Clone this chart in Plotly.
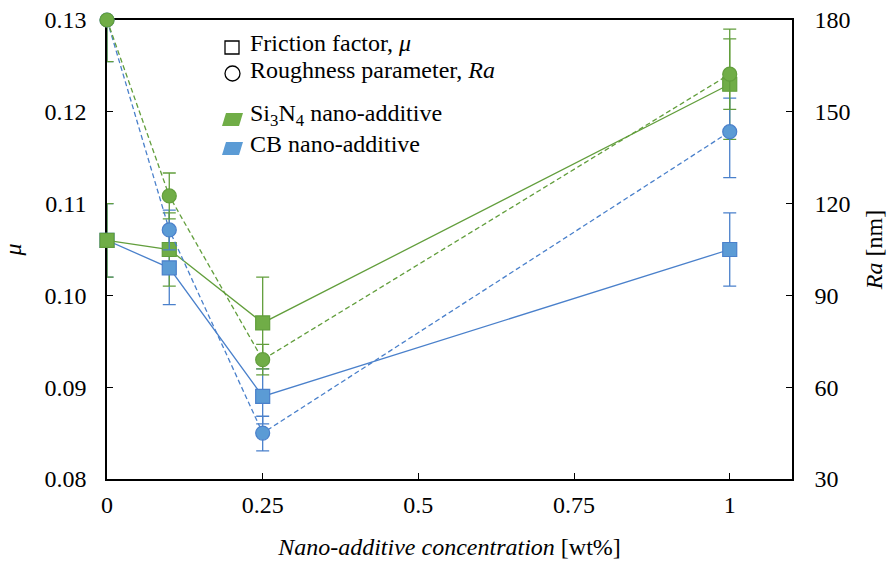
import plotly.graph_objects as go

# Nano-additive concentration [wt%]
conc = [0, 0.1, 0.25, 1]

# Friction factor (left axis)
mu_si3n4 = [0.106, 0.105, 0.097, 0.123]
mu_si3n4_err = [0.004, 0.004, 0.005, 0.006]
mu_cb = [0.106, 0.103, 0.089, 0.105]
mu_cb_err = [0.004, 0.004, 0.003, 0.004]

# Roughness parameter Ra [nm] (right axis)
ra_si3n4 = [180, 122.5, 69, 162.3]
ra_si3n4_err = [13.6, 7.5, 5, 11.5]
ra_cb = [180, 111.4, 45, 143.5]
ra_cb_err_plus = [13.6, 6.5, 5.5, 11]
ra_cb_err_minus = [13.6, 6.5, 5.8, 15]

x_ticks = [0, 0.25, 0.5, 0.75, 1]
x_ticklabels = ["0", "0.25", "0.5", "0.75", "1"]

GREEN_FILL, GREEN_LINE = "#70AD47", "#629E3C"
BLUE_FILL, BLUE_LINE = "#5B9BD5", "#4A80CB"

W, H = 896, 568
L, R, T, B = 107, 104, 20, 89
PW, PH = W - L - R, H - T - B
FONT = "Times New Roman, Liberation Serif, DejaVu Serif, serif"
FS = 24


def px(xp):
    return (xp - L) / PW


def py(yp):
    return (H - B - yp) / PH


fig = go.Figure()


def err_trace(y, plus, minus, color, axis):
    return go.Scatter(
        x=conc, y=y, mode="markers", yaxis=axis, showlegend=False,
        marker=dict(size=1, opacity=0), hoverinfo="skip", cliponaxis=True,
        error_y=dict(type="data", symmetric=False, array=plus, arrayminus=minus,
                     color=color, thickness=1.3, width=6.5),
    )


# error bars (clipped to the plot area)
fig.add_trace(err_trace(mu_cb, mu_cb_err, mu_cb_err, BLUE_LINE, "y"))
fig.add_trace(err_trace(mu_si3n4, mu_si3n4_err, mu_si3n4_err, GREEN_LINE, "y"))
fig.add_trace(err_trace(ra_cb, ra_cb_err_plus, ra_cb_err_minus, BLUE_LINE, "y2"))
fig.add_trace(err_trace(ra_si3n4, ra_si3n4_err, ra_si3n4_err, GREEN_LINE, "y2"))


def series(y, fill, line, symbol, dash, axis, size):
    return go.Scatter(
        x=conc, y=y, mode="lines+markers", yaxis=axis, showlegend=False,
        cliponaxis=False,
        line=dict(color=line, width=1.3, dash=dash),
        marker=dict(symbol=symbol, size=size, color=fill,
                    line=dict(color=line, width=1.2)),
    )


fig.add_trace(series(mu_cb, BLUE_FILL, BLUE_LINE, "square", "solid", "y", 14))
fig.add_trace(series(mu_si3n4, GREEN_FILL, GREEN_LINE, "square", "solid", "y", 14))
fig.add_trace(series(ra_cb, BLUE_FILL, BLUE_LINE, "circle", "5px,3px", "y2", 14))
fig.add_trace(series(ra_si3n4, GREEN_FILL, GREEN_LINE, "circle", "5px,3px", "y2", 14))

axis_common = dict(
    showline=True, linecolor="black", linewidth=1.5, ticks="inside",
    ticklen=6, tickcolor="black", showgrid=False, zeroline=False,
    automargin=False, layer="below traces",
    tickfont=dict(family=FONT, size=FS, color="black"),
)

fig.update_layout(
    width=W, height=H, margin=dict(l=L, r=R, t=T, b=B),
    paper_bgcolor="white", plot_bgcolor="white",
    font=dict(family=FONT, size=FS, color="black"),
    xaxis=dict(
        range=[0, 1.1], tickvals=x_ticks, ticktext=x_ticklabels, mirror=True,
        ticklabelstandoff=3,
        title=dict(text="<i>Nano-additive concentration</i> [wt%]",
                   font=dict(family=FONT, size=FS), standoff=22),
        **axis_common,
    ),
    yaxis=dict(
        range=[0.08, 0.13], dtick=0.01, tickformat=".2f", ticklabelstandoff=14,
        title=dict(text="<i>μ</i>", font=dict(family=FONT, size=FS), standoff=19),
        **axis_common,
    ),
    yaxis2=dict(
        range=[30, 180], dtick=30, overlaying="y", side="right",
        ticklabelstandoff=16,
        title=dict(text="<i>Ra</i> [nm]", font=dict(family=FONT, size=FS), standoff=16),
        **axis_common,
    ),
)

# legend block
shapes = [
    dict(type="rect", xref="paper", yref="paper",
         x0=px(225), x1=px(239), y0=py(54), y1=py(41),
         line=dict(color="black", width=1.3), fillcolor="white"),
    dict(type="circle", xref="paper", yref="paper",
         x0=px(225), x1=px(240), y0=py(81), y1=py(66),
         line=dict(color="black", width=1.3), fillcolor="white"),
    dict(type="path", xref="paper", yref="paper",
         path=f"M {px(222)},{py(126)} L {px(226)},{py(113)} L {px(243)},{py(113)} L {px(239)},{py(126)} Z",
         line=dict(width=0), fillcolor=GREEN_FILL),
    dict(type="path", xref="paper", yref="paper",
         path=f"M {px(222)},{py(155)} L {px(226)},{py(142)} L {px(243)},{py(142)} L {px(239)},{py(155)} Z",
         line=dict(width=0), fillcolor=BLUE_FILL),
]
fig.update_layout(shapes=shapes)

legend_rows = [
    ("Friction factor, <i>μ</i>", 43),
    ("Roughness parameter, <i>Ra</i>", 70),
    ("Si<sub>3</sub>N<sub>4</sub> nano-additive", 115),
    ("CB nano-additive", 144),
]
for text, yc in legend_rows:
    fig.add_annotation(
        text=text, xref="paper", yref="paper", x=px(248), y=py(yc),
        xanchor="left", yanchor="middle", showarrow=False,
        font=dict(family=FONT, size=FS, color="black"),
    )

fig.write_html("out.html")
